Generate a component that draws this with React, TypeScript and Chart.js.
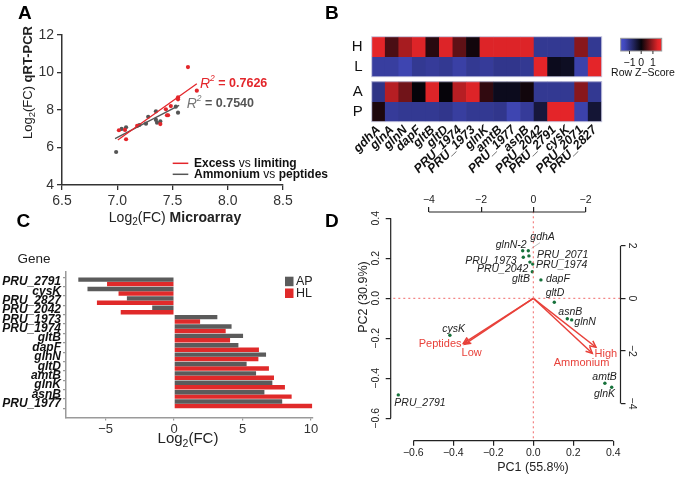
import React, { useEffect, useRef } from 'react';
import { Chart, registerables } from 'chart.js';
Chart.register(...registerables);

const F = "'Liberation Sans', Arial, Helvetica, sans-serif";
const W = 675;
const H = 477;

// ---------------- Panel A data ----------------
const aRedX = [7.64, 7.72, 7.55, 7.55, 7.485, 7.44, 7.45, 7.46, 7.39, 7.18, 7.015, 7.07, 7.08];
const aRedY = [10.29, 9.03, 8.68, 8.57, 8.21, 8.04, 7.72, 7.72, 7.25, 7.15, 6.92, 6.94, 6.44];
const aGrayX = [6.99, 7.04, 7.08, 7.2, 7.28, 7.26, 7.35, 7.35, 7.36, 7.39, 7.55, 7.53];
const aGrayY = [5.76, 6.99, 7.08, 7.2, 7.64, 7.27, 7.93, 7.47, 7.32, 7.39, 7.86, 8.18];
const aRedFitX = [7.005, 7.72];
const aRedFitY = [6.4, 9.4];
const aGrayFitX = [6.98, 7.56];
const aGrayFitY = [6.47, 8.25];
const aR2 = ['0.7626', '0.7540'];
const aXTicks = [6.5, 7.0, 7.5, 8.0, 8.5];
const aYTicks = [4, 6, 8, 10, 12];

// ---------------- Panel B data ----------------
const bGenes = ['gdhA', 'glnA', 'glnN', 'dapF', 'gltB', 'gltD', 'PRU_1974', 'PRU_1973', 'glnK', 'amtB', 'PRU_1977', 'asnB', 'PRU_2042', 'PRU_2791', 'cysK', 'PRU_2071', 'PRU_2827'];
const bRows = ['H', 'L', 'A', 'P'];
const zH = [1.45, 0.45, 1.05, 1.4, 0.22, 1.4, 0.58, 0.08, 1.4, 1.4, 1.4, 1.4, -1.1, -1.1, -1.1, 0.85, -1.1];
const zL = [-1.2, -1.2, -1.35, -1.1, -1.15, -1.1, -1.25, -1.1, -1.15, -1.05, -1.05, -1.1, 1.45, -0.15, -0.2, -1.3, 1.45];
const zA = [-1.0, 1.15, 0.7, 0.0, 1.4, 0.0, 1.15, 1.4, 0.28, -0.15, -0.15, 0.08, -1.1, -1.1, -1.1, 0.85, -1.1];
const zP = [0.15, -1.15, -1.1, -1.1, -1.1, -1.05, -1.2, -1.1, -1.1, -1.05, -1.35, -1.15, -0.4, 1.45, 1.45, -1.3, -0.35];
const bKeyTicks = [-1, 0, 1];

// ---------------- Panel C data ----------------
const cGenes = ['PRU_2791', 'cysK', 'PRU_2827', 'PRU_2042', 'PRU_1973', 'PRU_1974', 'gltB', 'dapF', 'glnN', 'gltD', 'amtB', 'glnK', 'asnB', 'PRU_1977'];
const cAP = [-7.0, -6.33, -3.45, -1.6, 3.16, 4.2, 5.04, 4.7, 6.72, 5.3, 5.99, 7.18, 6.6, 7.9];
const cHL = [-4.9, -4.06, -5.64, -3.9, 1.9, 3.77, 4.09, 6.2, 6.16, 6.93, 7.3, 8.1, 8.59, 10.1];
const cXTicks = [-5, 0, 5, 10];
const cSeries = ['AP', 'HL'];

// ---------------- Panel D data ----------------
const dGenes = ['glnN-2', 'gdhA', 'PRU_1973', 'PRU_2071', 'PRU_2042', 'PRU_1974', 'gltB', 'dapF', 'gltD', 'asnB', 'glnN', 'cysK', 'PRU_2791', 'amtB', 'glnK'];
const dPC1 = [-0.053, -0.025, -0.05, -0.022, -0.017, -0.003, -0.005, 0.038, 0.105, 0.17, 0.192, -0.417, -0.675, 0.358, 0.392];
const dPC2 = [0.238, 0.238, 0.205, 0.212, 0.181, 0.171, 0.133, 0.092, -0.02, -0.102, -0.108, -0.185, -0.483, -0.425, -0.445];
const dLabelOffset = [[4, -6, 'right'], [2, -14, 'left'], [-6.6, 3.4, 'right'], [8, -1, 'left'], [-1.6, 7, 'right'], [3.3, 1, 'left'], [-2.3, 7.6, 'right'], [5, -1, 'left'], [-8.6, -9, 'left'], [-9, -7, 'left'], [2.6, 1.8, 'left'], [-7.7, -6, 'left'], [-4, 8, 'left'], [-12.6, -6.6, 'left'], [-17.7, 7, 'left']];
const dLeaderX = [-0.008, 0.0335];
const dLeaderY = [0.25, 0.278];
const dVars = ['Peptides', 'Low', 'High', 'Ammonium'];
const dVarX = [-2.68, -2.64, 2.4, 2.26];
const dVarY = [-1.71, -1.75, -1.86, -2.09];
const dVarLabelX = [-3.57, -2.36, 2.78, 1.85];
const dVarLabelY = [-1.74, -2.09, -2.13, -2.47];
const dXTicks = [-0.6, -0.4, -0.2, 0, 0.2, 0.4];
const dYTicks = [-0.6, -0.4, -0.2, 0, 0.2, 0.4];
const dTopTicks = [-4, -2, 0, 2];
const dTopLabels = ['\u22124', '\u22122', '0', '\u22122'];
const dRightTicks = [-4, -2, 0, 2];

// ---------------- helpers ----------------
const fit = (size: number) => (s: any) => {
  if (s.isHorizontal()) s.height = size;
  else s.width = size;
  s.paddingLeft = 0;
  s.paddingRight = 0;
  s.paddingTop = 0;
  s.paddingBottom = 0;
};
const setTicks = (vals: number[]) => (s: any) => {
  s.ticks = vals.map((v) => ({ value: v }));
};
const minus = (s: string) => s.replace('-', '\u2212');

function text(ctx: any, t: string, x: number, y: number, font: string, color: string, align = 'left', baseline = 'middle', rot = 0) {
  ctx.save();
  ctx.translate(x, y);
  ctx.rotate(rot);
  ctx.font = font;
  ctx.fillStyle = color;
  ctx.textAlign = align;
  ctx.textBaseline = baseline;
  ctx.fillText(t, 0, 0);
  ctx.restore();
}

type Seg = { t: string; font: string; color?: string; dy?: number };
function rich(ctx: any, segs: Seg[], x: number, y: number, align: string, color: string, rot = 0) {
  ctx.save();
  ctx.translate(x, y);
  ctx.rotate(rot);
  ctx.textBaseline = 'middle';
  ctx.textAlign = 'left';
  let total = 0;
  for (const s of segs) {
    ctx.font = s.font;
    total += ctx.measureText(s.t).width;
  }
  let cx = align === 'left' ? 0 : align === 'center' ? -total / 2 : -total;
  for (const s of segs) {
    ctx.font = s.font;
    ctx.fillStyle = s.color || color;
    ctx.fillText(s.t, cx, s.dy || 0);
    cx += ctx.measureText(s.t).width;
  }
  ctx.restore();
}

function zColor(z: number) {
  const t = Math.max(-1, Math.min(1, z / 1.5));
  const a = Math.abs(t);
  const lo = [6, 4, 10];
  const hi = t < 0 ? [68, 76, 196] : [236, 38, 42];
  const c = lo.map((v, i) => Math.round(v + (hi[i] - v) * a));
  return `rgb(${c[0]},${c[1]},${c[2]})`;
}

const common = {
  responsive: false,
  animation: false,
  devicePixelRatio: 1,
  events: [],
  plugins: { legend: { display: false }, tooltip: { enabled: false } },
};

// ---------------- Panel A ----------------
const RED_A = '#e3262b';
const GRAY_A = '#555555';
function cfgA(): any {
  const plug = {
    id: 'plugA',
    afterDraw(chart: any) {
      const ctx = chart.ctx;
      text(ctx, 'A', 18, 18.5, `bold 19px ${F}`, '#000', 'left', 'alphabetic');
      text(ctx, 'B', 325, 18.5, `bold 19px ${F}`, '#000', 'left', 'alphabetic');
      rich(ctx, [
        { t: 'Log', font: `13px ${F}` },
        { t: '2', font: `9.5px ${F}`, dy: 4 },
        { t: '(FC) ', font: `13px ${F}` },
        { t: 'qRT-PCR', font: `bold 13px ${F}` },
      ], 28.5, 82.5, 'center', '#222', -Math.PI / 2);
      rich(ctx, [
        { t: 'Log', font: `14px ${F}` },
        { t: '2', font: `10px ${F}`, dy: 4 },
        { t: '(FC) ', font: `14px ${F}` },
        { t: 'Microarray', font: `bold 14px ${F}` },
      ], 175, 218, 'center', '#222');
      // legend
      const legs = [
        { c: RED_A, y: 163.3, a: 'Excess ', b: 'vs', d: ' limiting' },
        { c: GRAY_A, y: 174.3, a: 'Ammonium ', b: 'vs', d: ' peptides' },
      ];
      for (const l of legs) {
        ctx.save();
        ctx.strokeStyle = l.c;
        ctx.lineWidth = 1.5;
        ctx.beginPath();
        ctx.moveTo(172.7, l.y);
        ctx.lineTo(188.3, l.y);
        ctx.stroke();
        ctx.restore();
        rich(ctx, [
          { t: l.a, font: `bold 12px ${F}` },
          { t: l.b, font: `12px ${F}` },
          { t: l.d, font: `bold 12px ${F}` },
        ], 194, l.y, 'left', '#111');
      }
      // R2 labels
      rich(ctx, [
        { t: 'R', font: `italic 14px ${F}` },
        { t: '2', font: `italic 8.5px ${F}`, dy: -5 },
        { t: ' = ', font: `bold 12.5px ${F}` },
        { t: aR2[0], font: `bold 12.5px ${F}` },
      ], 200, 84, 'left', RED_A);
      rich(ctx, [
        { t: 'R', font: `italic 14px ${F}`, color: '#777' },
        { t: '2', font: `italic 8.5px ${F}`, dy: -5, color: '#777' },
        { t: ' = ', font: `bold 12.5px ${F}` },
        { t: aR2[1], font: `bold 12.5px ${F}` },
      ], 186.7, 104, 'left', '#555');
    },
  };
  return {
    type: 'scatter',
    data: {
      datasets: [
        { data: aRedFitX.map((x, i) => ({ x, y: aRedFitY[i] })), showLine: true, borderColor: RED_A, borderWidth: 1.3, pointRadius: 0 },
        { data: aGrayFitX.map((x, i) => ({ x, y: aGrayFitY[i] })), showLine: true, borderColor: GRAY_A, borderWidth: 1.3, pointRadius: 0 },
        { data: aRedX.map((x, i) => ({ x, y: aRedY[i] })), pointRadius: 2.1, backgroundColor: RED_A, borderWidth: 0 },
        { data: aGrayX.map((x, i) => ({ x, y: aGrayY[i] })), pointRadius: 2.1, backgroundColor: GRAY_A, borderWidth: 0 },
      ],
    },
    options: {
      ...common,
      layout: { padding: { left: 0, top: 35, right: W - 283, bottom: 0 } },
      scales: {
        x: {
          type: 'linear', min: 6.5, max: 8.5,
          afterBuildTicks: setTicks(aXTicks), afterFit: fit(H - 185),
          ticks: { callback: (v: any) => Number(v).toFixed(1), font: { size: 14, family: F }, color: '#333', padding: 3 },
          grid: { drawOnChartArea: false, tickLength: 5, color: '#333', lineWidth: 1.3 },
          border: { color: '#333', width: 1.5 },
        },
        y: {
          type: 'linear', min: 4, max: 12,
          afterBuildTicks: setTicks(aYTicks), afterFit: fit(62),
          ticks: { font: { size: 14, family: F }, color: '#333', padding: 3 },
          grid: { drawOnChartArea: false, tickLength: 5, color: '#333', lineWidth: 1.3 },
          border: { color: '#333', width: 1.5 },
        },
      },
    },
    plugins: [plug],
  };
}

// ---------------- Panel B ----------------
function cfgB(): any {
  const bands = [[3.25, 4.25], [2.25, 3.25], [1, 2], [0, 1]];
  const centers = bands.map((b) => (b[0] + b[1]) / 2);
  const rowZ = [zH, zL, zA, zP];
  const plug = {
    id: 'plugB',
    afterDraw(chart: any) {
      const ctx = chart.ctx;
      const ca = chart.chartArea;
      const y = chart.scales.y;
      ctx.save();
      ctx.strokeStyle = 'rgba(200,200,225,0.9)';
      ctx.lineWidth = 1;
      const blocks = [[bands[0][1], bands[1][0]], [bands[2][1], bands[3][0]]];
      for (const b of blocks) {
        const t = y.getPixelForValue(b[0]);
        const bt = y.getPixelForValue(b[1]);
        ctx.strokeRect(ca.left, t, ca.right - ca.left, bt - t);
      }
      ctx.restore();
      // colour key
      const kx0 = 620.7, kx1 = 661.7, ky0 = 38.3, ky1 = 51;
      const zmin = -1.75, zmax = 1.75;
      const g = ctx.createLinearGradient(kx0, 0, kx1, 0);
      for (let i = 0; i <= 20; i++) {
        const z = zmin + ((zmax - zmin) * i) / 20;
        g.addColorStop(i / 20, zColor(z));
      }
      ctx.save();
      ctx.fillStyle = g;
      ctx.fillRect(kx0, ky0, kx1 - kx0, ky1 - ky0);
      ctx.strokeStyle = '#999';
      ctx.lineWidth = 1;
      ctx.strokeRect(kx0, ky0, kx1 - kx0, ky1 - ky0);
      ctx.strokeStyle = '#333';
      for (const v of bKeyTicks) {
        const px = kx0 + ((v - zmin) / (zmax - zmin)) * (kx1 - kx0);
        ctx.beginPath();
        ctx.moveTo(px, ky1);
        ctx.lineTo(px, ky1 + 3);
        ctx.stroke();
        text(ctx, minus(String(v)), px, 63.3, `10.5px ${F}`, '#111', 'center');
      }
      ctx.restore();
      text(ctx, 'Row Z\u2212Score', 643, 72.7, `10.5px ${F}`, '#111', 'center');
    },
  };
  return {
    type: 'bar',
    data: {
      labels: bGenes,
      datasets: bRows.map((r, k) => ({
        label: r,
        data: bGenes.map(() => bands[k]),
        backgroundColor: rowZ[k].map(zColor),
        grouped: false,
        categoryPercentage: 1,
        barPercentage: 1,
        borderWidth: 0,
      })),
    },
    options: {
      ...common,
      layout: { padding: { left: 371.7 - 40, top: 36.7, right: W - 601.7, bottom: 0 } },
      scales: {
        x: {
          type: 'category', afterFit: fit(H - 121.7),
          ticks: { autoSkip: false, minRotation: 45, maxRotation: 45, font: { size: 12.5, weight: 'bold', style: 'italic', family: F }, color: '#111', padding: 1 },
          grid: { display: false, drawTicks: false },
          border: { display: false },
        },
        y: {
          type: 'linear', min: 0, max: 4.25,
          afterBuildTicks: setTicks(centers), afterFit: fit(40),
          ticks: { autoSkip: false, callback: (v: any) => bRows[centers.indexOf(v)], font: { size: 15, family: F }, color: '#111', padding: 9 },
          grid: { display: false, drawTicks: false },
          border: { display: false },
        },
      },
    },
    plugins: [plug],
  };
}

// ---------------- Panel C ----------------
const GRAY_C = '#5b5b5b';
const RED_C = '#e02a2a';
function cfgC(): any {
  const plug = {
    id: 'plugC',
    afterDraw(chart: any) {
      const ctx = chart.ctx;
      text(ctx, 'C', 16.5, 226.7, `bold 19px ${F}`, '#000', 'left', 'alphabetic');
      text(ctx, 'Gene', 34, 259.5, `13.5px ${F}`, '#222', 'center');
      rich(ctx, [
        { t: 'Log', font: `15px ${F}` },
        { t: '2', font: `10.5px ${F}`, dy: 5 },
        { t: '(FC)', font: `15px ${F}` },
      ], 188, 439, 'center', '#222');
      const cols = [GRAY_C, RED_C];
      const ys = [276.7, 288.5];
      cSeries.forEach((s, i) => {
        ctx.fillStyle = cols[i];
        ctx.fillRect(285, ys[i], 8.5, 9.5);
        text(ctx, s, 296, ys[i] + 5, `12.5px ${F}`, '#222', 'left');
      });
    },
  };
  return {
    type: 'bar',
    data: {
      datasets: [
        { label: cSeries[0], data: cAP.map((v, i) => ({ x: v, y: i })), backgroundColor: GRAY_C, categoryPercentage: 0.94, barPercentage: 1, borderWidth: 0 },
        { label: cSeries[1], data: cHL.map((v, i) => ({ x: v, y: i })), backgroundColor: RED_C, categoryPercentage: 0.94, barPercentage: 1, borderWidth: 0 },
      ],
    },
    options: {
      ...common,
      indexAxis: 'y',
      layout: { padding: { left: 0, top: 271.5, right: W - 312.3, bottom: 0 } },
      scales: {
        x: {
          type: 'linear', min: -7.9, max: 10.1,
          afterBuildTicks: setTicks(cXTicks), afterFit: fit(H - 417.4),
          ticks: { autoSkip: false, callback: (v: any) => minus(String(v)), font: { size: 13, family: F }, color: '#333', padding: 1 },
          grid: { drawOnChartArea: false, tickLength: 3, color: '#9a9a9a', lineWidth: 1.2 },
          border: { color: '#9a9a9a', width: 1.5 },
        },
        y: {
          type: 'linear', reverse: true, min: -0.55, max: 13.9,
          afterBuildTicks: setTicks(cGenes.map((_, i) => i)), afterFit: fit(66),
          ticks: { autoSkip: false, callback: (v: any) => cGenes[v], font: { size: 12, weight: 'bold', style: 'italic', family: F }, color: '#111', padding: 2 },
          grid: { drawOnChartArea: false, tickLength: 3, color: '#9a9a9a', lineWidth: 1.2 },
          border: { color: '#9a9a9a', width: 1.5 },
        },
      },
    },
    plugins: [plug],
  };
}

// ---------------- Panel D ----------------
const ARROW = '#e8413a';
const fmt1 = (v: number) => (v < -1e-9 ? '\u2212' : '') + Math.abs(v).toFixed(1);
function cfgD(): any {
  const plug = {
    id: 'plugD',
    afterDraw(chart: any) {
      const ctx = chart.ctx;
      const ca = chart.chartArea;
      const { x, y, x2, y2 } = chart.scales;
      text(ctx, 'D', 325, 226.7, `bold 19px ${F}`, '#000', 'left', 'alphabetic');
      ctx.save();
      ctx.strokeStyle = '#222';
      ctx.lineWidth = 1.2;
      ctx.beginPath();
      ctx.moveTo(ca.left, y.getPixelForValue(dYTicks[dYTicks.length - 1]));
      ctx.lineTo(ca.left, y.getPixelForValue(dYTicks[0]));
      ctx.moveTo(x.getPixelForValue(dXTicks[0]), ca.bottom);
      ctx.lineTo(x.getPixelForValue(dXTicks[dXTicks.length - 1]), ca.bottom);
      ctx.moveTo(x2.getPixelForValue(dTopTicks[0]), ca.top);
      ctx.lineTo(x2.getPixelForValue(dTopTicks[dTopTicks.length - 1]), ca.top);
      ctx.moveTo(ca.right, y2.getPixelForValue(dRightTicks[dRightTicks.length - 1]));
      ctx.lineTo(ca.right, y2.getPixelForValue(dRightTicks[0]));
      ctx.stroke();
      ctx.restore();
      for (const v of dYTicks) text(ctx, fmt1(v), 376, y.getPixelForValue(v), `10.5px ${F}`, '#222', 'center', 'middle', -Math.PI / 2);
      for (const v of dRightTicks) text(ctx, minus(String(v)), 632, y2.getPixelForValue(v), `10.5px ${F}`, '#222', 'center', 'middle', Math.PI / 2);
      text(ctx, 'PC1 (55.8%)', 533, 468, `12.5px ${F}`, '#222', 'center');
      text(ctx, 'PC2 (30.9%)', 363.3, 297, `12.5px ${F}`, '#222', 'center', 'middle', -Math.PI / 2);
      // point labels
      dGenes.forEach((g, i) => {
        const o: any = dLabelOffset[i];
        const px = x.getPixelForValue(dPC1[i]) + o[0];
        const py = y.getPixelForValue(dPC2[i]) + o[1];
        text(ctx, g, px, py, `italic 10.5px ${F}`, '#222', o[2]);
      });
      // arrow heads + labels
      const ox = x2.getPixelForValue(0), oy = y2.getPixelForValue(0);
      ctx.save();
      ctx.strokeStyle = ARROW;
      ctx.lineWidth = 1.5;
      dVars.forEach((n, i) => {
        const tx = x2.getPixelForValue(dVarX[i]);
        const ty = y2.getPixelForValue(dVarY[i]);
        const ang = Math.atan2(ty - oy, tx - ox);
        const L = 7, A = 0.45;
        ctx.beginPath();
        ctx.moveTo(tx - L * Math.cos(ang - A), ty - L * Math.sin(ang - A));
        ctx.lineTo(tx, ty);
        ctx.lineTo(tx - L * Math.cos(ang + A), ty - L * Math.sin(ang + A));
        ctx.stroke();
        text(ctx, n, x2.getPixelForValue(dVarLabelX[i]), y2.getPixelForValue(dVarLabelY[i]), `11px ${F}`, ARROW, 'center');
      });
      ctx.restore();
    },
  };
  const line = (data: any[], color: string, width: number, dash: number[] = [], ax = 'x', ay = 'y') => ({
    data, showLine: true, borderColor: color, borderWidth: width, borderDash: dash, pointRadius: 0, xAxisID: ax, yAxisID: ay,
  });
  return {
    type: 'scatter',
    data: {
      datasets: [
        line([{ x: -1, y: 0 }, { x: 1, y: 0 }], '#f06868', 1, [2, 3]),
        line([{ x: 0, y: -1 }, { x: 0, y: 1 }], '#f06868', 1, [2, 3]),
        line(dLeaderX.map((v, i) => ({ x: v, y: dLeaderY[i] })), '#aaaaaa', 0.8),
        ...dVars.map((_, i) => line([{ x: 0, y: 0 }, { x: dVarX[i], y: dVarY[i] }], ARROW, 1.5, [], 'x2', 'y2')),
        { data: dPC1.map((v, i) => ({ x: v, y: dPC2[i] })), pointRadius: 1.7, backgroundColor: '#16713a', borderWidth: 0, xAxisID: 'x', yAxisID: 'y' },
      ],
    },
    options: {
      ...common,
      layout: { padding: { left: 390.7 - 30, top: 212 - 20, right: W - 620.5 - 20, bottom: 0 } },
      scales: {
        x: {
          type: 'linear', position: 'bottom', min: -0.713, max: 0.436,
          afterBuildTicks: setTicks(dXTicks), afterFit: fit(H - 440.7),
          ticks: { autoSkip: false, callback: (v: any) => fmt1(v), font: { size: 10.5, family: F }, color: '#222', padding: 1 },
          grid: { drawOnChartArea: false, tickLength: 5, color: '#222', lineWidth: 1.2 },
          border: { display: false },
        },
        x2: {
          type: 'linear', position: 'top', axis: 'x', min: -5.464, max: 3.341,
          afterBuildTicks: setTicks(dTopTicks), afterFit: fit(20),
          ticks: { autoSkip: false, callback: (v: any, i: number) => dTopLabels[i], font: { size: 10.5, family: F }, color: '#222', padding: 1 },
          grid: { drawOnChartArea: false, tickLength: 5, color: '#222', lineWidth: 1.2 },
          border: { display: false },
        },
        y: {
          type: 'linear', position: 'left', min: -0.712, max: 0.4315,
          afterBuildTicks: setTicks(dYTicks), afterFit: fit(30),
          ticks: { display: false },
          grid: { drawOnChartArea: false, tickLength: 5, color: '#222', lineWidth: 1.2 },
          border: { display: false },
        },
        y2: {
          type: 'linear', position: 'right', axis: 'y', min: -5.414, max: 3.281,
          afterBuildTicks: setTicks(dRightTicks), afterFit: fit(20),
          ticks: { display: false },
          grid: { drawOnChartArea: false, tickLength: 5, color: '#222', lineWidth: 1.2 },
          border: { display: false },
        },
      },
    },
    plugins: [plug],
  };
}

export default function App() {
  const rA = useRef<HTMLCanvasElement>(null);
  const rB = useRef<HTMLCanvasElement>(null);
  const rC = useRef<HTMLCanvasElement>(null);
  const rD = useRef<HTMLCanvasElement>(null);
  useEffect(() => {
    Chart.defaults.font.family = F;
    const charts = [
      new Chart(rA.current as any, cfgA()),
      new Chart(rB.current as any, cfgB()),
      new Chart(rC.current as any, cfgC()),
      new Chart(rD.current as any, cfgD()),
    ];
    return () => charts.forEach((c) => c.destroy());
  }, []);
  const refs = [rA, rB, rC, rD];
  return (
    <div style={{ position: 'fixed', left: 0, top: 0, width: W, height: H, background: '#fff', overflow: 'hidden' }}>
      {refs.map((r, i) => (
        <canvas key={i} ref={r} width={W} height={H} style={{ position: 'absolute', left: 0, top: 0, width: W, height: H }} />
      ))}
    </div>
  );
}
